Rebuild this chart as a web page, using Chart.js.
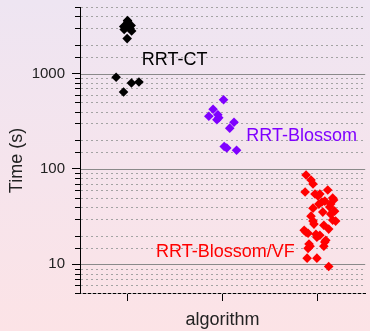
<!DOCTYPE html>
<html>
<head>
<meta charset="utf-8">
<script src="https://cdn.jsdelivr.net/npm/chart.js@4/dist/chart.umd.min.js"></script>
<style>
  html, body { margin: 0; padding: 0; }
  body { width: 370px; height: 331px; background: linear-gradient(to bottom, #eee5f2 0%, #f6e4ec 55%, #fce3e6 100%); overflow: hidden; }
  #wrap { position: relative; width: 370px; height: 331px; }
</style>
</head>
<body>
<div id="wrap"><canvas id="c" width="370" height="331"></canvas></div>
<script>
// ---- data ----
const categories = ['RRT-CT', 'RRT-Blossom', 'RRT-Blossom/VF'];
const categoryColors = ['#000000', '#7f00ff', '#ff0000'];

// horizontal jitter position along the category axis (category i centred at i+0.5)
const ctPos   = [0.50, 0.502, 0.460, 0.538, 0.465, 0.527, 0.543, 0.496, 0.38, 0.458, 0.541, 0.62];
const ctTime  = [3600, 3480, 3120, 3200, 2900, 2980, 2800, 2330, 915, 641, 798, 818];

const blPos   = [1.51, 1.40, 1.355, 1.45, 1.44, 1.46, 1.62, 1.575, 1.517, 1.544, 1.647];
const blTime  = [532, 423, 357, 370, 328, 345, 309, 268, 172, 166, 157];

const vfPos  = [2.378, 2.430, 2.451, 2.368, 2.472, 2.523, 2.606, 2.658, 2.575, 2.513,
                2.637, 2.451, 2.554, 2.637, 2.430, 2.658, 2.451, 2.461, 2.565, 2.616,
                2.358, 2.399, 2.482, 2.523, 2.585, 2.575, 2.409, 2.399, 2.565, 2.389,
                2.492, 2.616, 2.544, 2.678, 2.492, 2.627, 2.420, 2.378, 2.503, 2.668, 2.689];
const vfTime = [86.5, 76.6, 69.5, 57.3, 54.6, 54.6, 60.1, 49.5, 46.0, 42.8,
                42.8, 38.8, 35.3, 33.6, 32.0, 29.1, 28.4, 26.4, 25.7, 23.4,
                22.8, 21.2, 20.7, 20.2, 17.9, 17.1, 16.3, 14.7, 15.5, 11.6,
                11.6, 9.5, 45.0, 36.1, 19.2, 39.8, 15.5, 21.7, 52.0, 47.2, 28.4];

const yMin = 5, yMax = 5000;
const xTickValues = [0.5, 1.5, 2.5];
const yTitle = 'Time (s)';
const xTitle = 'algorithm';

// ---- helpers ----
const FONT = '"Liberation Sans", Arial, sans-serif';
function isMajor(v) {
  const l = Math.log10(v);
  return Math.abs(l - Math.round(l)) < 1e-9;
}
function pts(pos, time) { return pos.map((p, i) => ({ x: p, y: time[i] })); }

// label placement for each group (text left edge x in category units, y in data units)
const groupLabels = [
  { text: categories[0], x: 0.65, y: 1400, color: categoryColors[0] },
  { text: categories[1], x: 1.75, y: 222,  color: categoryColors[1] },
  { text: categories[2], x: 0.80, y: 13.4, color: categoryColors[2] }
];

const decor = {
  id: 'decor',
  beforeDatasetsDraw(chart) {
    const { ctx, chartArea: a, scales: { y } } = chart;
    ctx.save();
    y.ticks.forEach(t => {
      const v = t.value;
      const py = Math.round(y.getPixelForValue(v)) + 0.5;
      const major = isMajor(v);
      ctx.lineWidth = 1;
      ctx.beginPath();
      if (major) { ctx.setLineDash([]); ctx.strokeStyle = '#8a8a8a'; }
      else { ctx.setLineDash([2, 3]); ctx.strokeStyle = '#a3a3a3'; }
      ctx.moveTo(a.left + 1, py);
      ctx.lineTo(a.right, py);
      ctx.stroke();
      if (!major) {
        ctx.setLineDash([]);
        ctx.strokeStyle = '#000';
        ctx.beginPath();
        ctx.moveTo(a.left - 5, py);
        ctx.lineTo(a.left, py);
        ctx.stroke();
      }
    });
    ctx.restore();
  },
  afterDatasetsDraw(chart) {
    const { ctx, scales: { x, y } } = chart;
    ctx.save();
    ctx.font = '18px ' + FONT;
    ctx.textBaseline = 'middle';
    ctx.textAlign = 'left';
    groupLabels.forEach(l => {
      ctx.fillStyle = l.color;
      ctx.fillText(l.text, x.getPixelForValue(l.x), y.getPixelForValue(l.y));
    });
    // y axis title
    ctx.fillStyle = '#222';
    ctx.textAlign = 'center';
    ctx.translate(17, 160.5);
    ctx.rotate(-Math.PI / 2);
    ctx.fillText(yTitle, 0, 0);
    ctx.restore();
  }
};

new Chart(document.getElementById('c'), {
  type: 'scatter',
  data: {
    datasets: [
      { label: categories[0], data: pts(ctPos, ctTime), backgroundColor: categoryColors[0] },
      { label: categories[1], data: pts(blPos, blTime), backgroundColor: categoryColors[1] },
      { label: categories[2], data: pts(vfPos, vfTime), backgroundColor: categoryColors[2] }
    ]
  },
  options: {
    responsive: false,
    animation: false,
    devicePixelRatio: 1,
    layout: { padding: { top: 7, right: 0, left: 0, bottom: 0 } },
    elements: { point: { pointStyle: 'rectRot', radius: 4.8, borderWidth: 0 } },
    plugins: { legend: { display: false }, tooltip: { enabled: false } },
    scales: {
      x: {
        type: 'linear', min: 0, max: 3,
        afterBuildTicks: s => { s.ticks = xTickValues.map(v => ({ value: v })); },
        afterFit: s => { s.height = 38; s.paddingLeft = 0; s.paddingRight = 0; },
        ticks: { callback: () => '', font: { family: FONT, size: 15 } },
        grid: { drawOnChartArea: false, drawTicks: true, tickLength: 8, tickColor: '#000' },
        border: { color: '#000', width: 1 },
        title: { display: true, text: xTitle, color: '#222', font: { family: FONT, size: 18 }, padding: { top: 0, bottom: 0 } }
      },
      y: {
        type: 'logarithmic', min: yMin, max: yMax,
        afterFit: s => { s.width = 80; s.paddingTop = 0; s.paddingBottom = 0; },
        ticks: {
          autoSkip: false,
          padding: 7,
          color: '#222',
          font: { family: FONT, size: 15 },
          callback: v => isMajor(v) ? String(Math.round(v)) : ''
        },
        grid: {
          drawOnChartArea: false, tickLength: 8,
          tickColor: ctx => (ctx.tick && isMajor(ctx.tick.value)) ? '#000' : 'rgba(0,0,0,0)'
        },
        border: { color: '#000', width: 1 },
        title: { display: false }
      }
    }
  },
  plugins: [decor]
});
</script>
</body>
</html>
